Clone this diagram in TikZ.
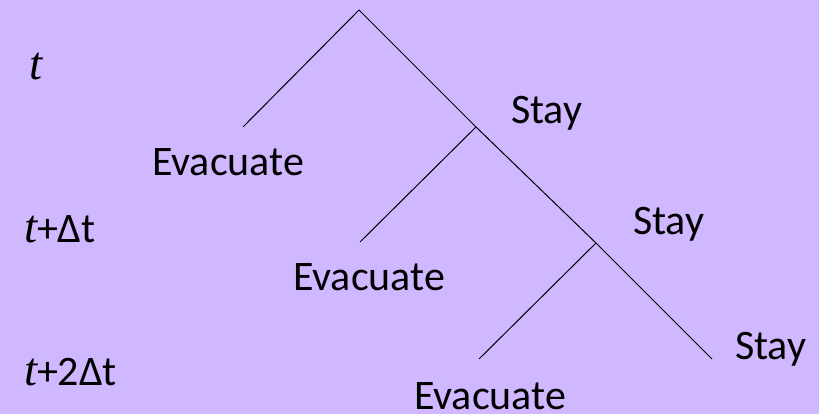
\documentclass[tikz,border=0pt]{standalone}
\usepackage{fontspec}
\setmainfont{Carlito}
\newfontfamily\tvar{Liberation Serif}
\newcommand{\tsym}{{\tvar\itshape\fontsize{47}{50}\selectfont t}}
\definecolor{bgcol}{RGB}{207,184,255}
\begin{document}
\begin{tikzpicture}[x=1pt,y=-1pt,
  branch/.style={line width=1pt,black},
  lbl/.style={anchor=base west,inner sep=0pt,outer sep=0pt,font=\fontsize{42}{50}\selectfont}]
  % background panel
  \fill[bgcol] (0,0) rectangle (819,414);
  \useasboundingbox (0,0) rectangle (819,414);

  % branching points of the decision tree
  \coordinate (root) at (359,10);
  \coordinate (s1)   at (476,127);
  \coordinate (e1)   at (243,127);
  \coordinate (s2)   at (596,243);
  \coordinate (e2)   at (360,242);
  \coordinate (s3)   at (712,359);
  \coordinate (e3)   at (479,359);

  \draw[branch] (e1) -- (root) -- (s1) -- (s2) -- (s3);
  \draw[branch] (s1) -- (e2);
  \draw[branch] (s2) -- (e3);

  % time labels
  \node[lbl] (t0) at (29,80)  {\tsym};
  \node[lbl] (t1) at (24,243) {\tsym+Δt};
  \node[lbl] (t2) at (24,385) {\tsym+2Δt};

  % action labels
  \node[lbl] (ev1) at (152,176) {Evacuate};
  \node[lbl] (st1) at (511,124) {Stay};
  \node[lbl] (ev2) at (293,290) {Evacuate};
  \node[lbl] (st2) at (633,234) {Stay};
  \node[lbl] (ev3) at (414,409) {Evacuate};
  \node[lbl] (st3) at (735,359) {Stay};
\end{tikzpicture}
\end{document}
